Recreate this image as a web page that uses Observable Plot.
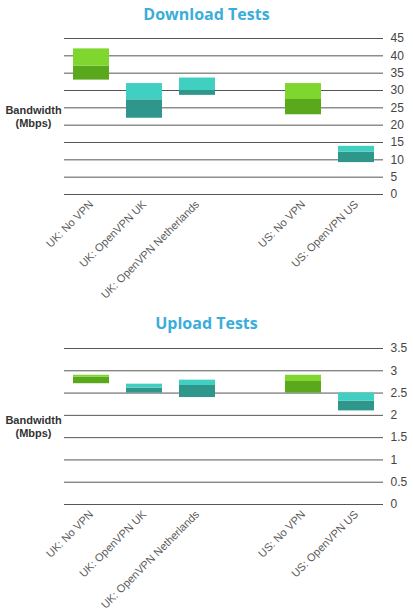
<!DOCTYPE html>
<html>
<head>
<meta charset="utf-8">
<script src="https://cdn.jsdelivr.net/npm/d3@7"></script>
<script src="https://cdn.jsdelivr.net/npm/@observablehq/plot@0.6"></script>
<style>
  body { margin: 0; background: #fff; font-family: "Liberation Sans", Arial, sans-serif; }
  .title { width: 413px; text-align: center; font-family: "Open Sans", sans-serif; font-weight: bold;
           font-size: 16px; color: #3aaed8; }
  #down-title { height: 28px; line-height: 28px; }
  #up-title { height: 30px; line-height: 30px; }
  svg { display: block; }
</style>
</head>
<body>
<div id="down-title" class="title">Download Tests</div>
<div id="down"></div>
<div id="up-title" class="title">Upload Tests</div>
<div id="up"></div>
<script>
const categories = ["UK: No VPN", "UK: OpenVPN UK", "UK: OpenVPN Netherlands", "US: No VPN", "US: OpenVPN US"];
const vpn = ["No VPN", "OpenVPN", "OpenVPN", "No VPN", "OpenVPN"];

const downLow  = [33, 22, 28.6, 23, 9.2];
const downMid  = [37, 27.3, 30, 27.4, 12.2];
const downHigh = [42, 32, 33.6, 32, 13.9];
const downTicks = [0, 5, 10, 15, 20, 25, 30, 35, 40, 45];

const upLow  = [2.71, 2.5, 2.4, 2.5, 2.1];
const upMid  = [2.86, 2.61, 2.67, 2.76, 2.32];
const upHigh = [2.9, 2.7, 2.79, 2.9, 2.5];
const upTicks = [0, 0.5, 1, 1.5, 2, 2.5, 3, 3.5];

// empty slot between the UK and US groups
const slots = [categories[0], categories[1], categories[2], " ", categories[3], categories[4]];

const darkColor = {"No VPN": "#5aa81c", "OpenVPN": "#2e968a"};
const lightColor = {"No VPN": "#7ed62e", "OpenVPN": "#40cfc1"};

function rows(low, mid, high) {
  return categories.map((c, i) => ({cat: c, vpn: vpn[i], low: low[i], mid: mid[i], high: high[i]}));
}

function chart(data, ticks, maxY, height, marginBottom) {
  return Plot.plot({
    width: 413,
    height: height,
    marginTop: 10,
    marginBottom: marginBottom,
    marginLeft: 64,
    marginRight: 30,
    style: {fontFamily: "Liberation Sans, Arial, sans-serif", color: "#444", background: "#fff"},
    x: {domain: slots, paddingInner: 0.33, paddingOuter: 0.165, label: null},
    y: {domain: [0, maxY], label: null},
    marks: [
      Plot.ruleY(ticks, {stroke: "#555", strokeWidth: 1}),
      Plot.barY(data, {x: "cat", y1: "low", y2: "mid", fill: d => darkColor[d.vpn], inset: 0}),
      Plot.barY(data, {x: "cat", y1: "mid", y2: "high", fill: d => lightColor[d.vpn], inset: 0}),
      Plot.axisY(ticks, {anchor: "right", tickSize: 0, tickPadding: 7, fontSize: 12, fill: "#444",
        tickFormat: d => String(d), label: null}),
      Plot.axisX({tickRotate: -45, tickSize: 0, tickPadding: 8, fontSize: 11, fill: "#5a5a5a", label: null}),
      Plot.text(["Bandwidth\n(Mbps)"], {frameAnchor: "left", dx: -31, textAnchor: "middle",
        fontWeight: "bold", fontSize: 11, fill: "#333", lineHeight: 1.2})
    ]
  });
}

d3.select("#down").append(() => chart(rows(downLow, downMid, downHigh), downTicks, 45, 280, 114));
d3.select("#up").append(() => chart(rows(upLow, upMid, upHigh), upTicks, 3.5, 274, 108));
</script>
</body>
</html>
